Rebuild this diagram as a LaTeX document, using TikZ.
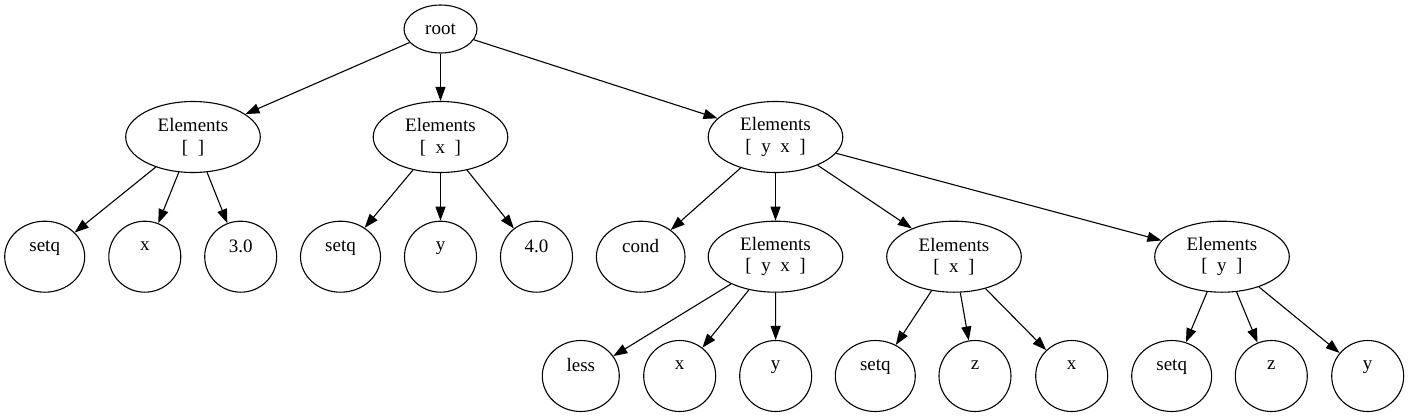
\documentclass[tikz,border=0pt]{standalone}
\usepackage{fontspec}
\setmainfont{Liberation Serif}
\usetikzlibrary{shapes.geometric,arrows.meta}
\begin{document}
\begin{tikzpicture}[x=1pt,y=-1pt,
  every node/.style={font=\fontsize{19}{21.5}\selectfont, align=center},
  nd/.style={draw, ellipse, line width=1.1pt, inner sep=0pt, minimum width=72pt, minimum height=71pt},
  rootnd/.style={nd, minimum width=73pt, minimum height=48pt},
  elnd/.style={nd, minimum width=134.6pt},
  edge/.style={line width=1.1pt, -{Triangle[length=14pt,width=10pt]}}]
\useasboundingbox (0,0) rectangle (1409,418);
\node[rootnd] (root) at (440.5,29) {root};
\node[elnd] (e1) at (193,137) {Elements\\{[}\ \ {]}};
\node[elnd] (e2) at (440.5,137) {Elements\\{[}\ \ x\ \ {]}};
\node[elnd] (e3) at (775.5,137) {Elements\\{[}\ \ y\ \ x\ \ {]}};
\node[nd, minimum width=80pt] (a1) at (44.7,256.7) {setq\\~};
\node[nd] (a2) at (144.8,256.7) {x\\~};
\node[nd] (a3) at (240.7,256.7) {3.0\\~};
\node[nd, minimum width=80pt] (b1) at (340.5,256.7) {setq\\~};
\node[nd] (b2) at (440.5,256.7) {y\\~};
\node[nd] (b3) at (536.5,256.7) {4.0\\~};
\node[nd, minimum width=88.6pt] (c1) at (640.7,256.7) {cond\\~};
\node[elnd] (e4) at (775.5,256.7) {Elements\\{[}\ \ y\ \ x\ \ {]}};
\node[elnd] (e5) at (954,256.7) {Elements\\{[}\ \ x\ \ {]}};
\node[elnd] (e6) at (1222,256.7) {Elements\\{[}\ \ y\ \ {]}};
\node[nd, minimum width=77pt] (d1) at (580.8,376) {less\\~};
\node[nd] (d2) at (679.7,376) {x\\~};
\node[nd] (d3) at (775.7,376) {y\\~};
\node[nd, minimum width=80pt] (f1) at (875.3,376) {setq\\~};
\node[nd] (f2) at (975,376) {z\\~};
\node[nd] (f3) at (1071.7,376) {x\\~};
\node[nd, minimum width=80pt] (g1) at (1171.7,376) {setq\\~};
\node[nd] (g2) at (1271.3,376) {z\\~};
\node[nd] (g3) at (1367.7,376) {y\\~};
\foreach \s/\t in {root/e1,root/e2,root/e3,e1/a1,e1/a2,e1/a3,e2/b1,e2/b2,e2/b3,e3/c1,e3/e4,e3/e5,e3/e6,e4/d1,e4/d2,e4/d3,e5/f1,e5/f2,e5/f3,e6/g1,e6/g2,e6/g3}
  \draw[edge] (\s) -- (\t);
\end{tikzpicture}
\end{document}
